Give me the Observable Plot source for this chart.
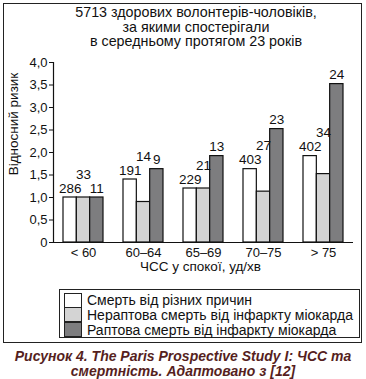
<!DOCTYPE html>
<html>
<head>
<meta charset="utf-8">
<script src="https://cdn.jsdelivr.net/npm/d3@7"></script>
<script src="https://cdn.jsdelivr.net/npm/@observablehq/plot@0.6"></script>
<style>
  html, body { margin: 0; padding: 0; background: #fff; }
  body { width: 366px; height: 379px; position: relative; overflow: hidden;
         font-family: "Liberation Sans", Arial, Helvetica, sans-serif; color: #111; }
  #frame { position: absolute; left: 3px; top: 3px; width: 357px; height: 338px;
           border: 1.5px solid #222; }
  #title { position: absolute; left: 26px; top: 5px; width: 340px; text-align: center;
           font-size: 14.3px; line-height: 14.5px; }
  #ylabel { position: absolute; left: 14px; top: 124px; width: 0; height: 0; }
  #ylabel span { position: absolute; transform: translate(-50%, -50%) rotate(-90deg);
                 white-space: nowrap; font-size: 13.5px; line-height: 14px; }
  #chart { position: absolute; left: 0; top: 0; }
  #legend { position: absolute; left: 59px; top: 289px; width: 299px; height: 47px;
            border: 1.5px solid #222; }
  .row { position: absolute; left: 4px; height: 15px; display: flex; align-items: center;
         font-size: 14px; white-space: nowrap; }
  .sw { width: 18px; height: 15px; border: 1px solid #222; margin-right: 5px; box-sizing: border-box; }
  #caption { position: absolute; left: 0; top: 349px; width: 366px; text-align: center;
             font-size: 14px; line-height: 14.5px; font-weight: bold; font-style: italic; color: #561f1e; }
</style>
</head>
<body>
<div id="frame"></div>
<div id="title"></div>
<div id="chart"></div>
<div id="ylabel"><span></span></div>
<div id="legend"></div>
<div id="caption"></div>
<script>
// ---- data ----
const titleLines = ["5713 здорових волонтерів-чоловіків,", "за якими спостерігали", "в середньому протягом 23 років"];
const groups = ["< 60", "60–64", "65–69", "70–75", "> 75"];
const series = ["Смерть від різних причин", "Нераптова смерть від інфаркту міокарда", "Раптова смерть від інфаркту міокарда"];
const seriesColors = ["#ffffff", "#d4d4d4", "#7d7d7f"];
const allCause = [1.0, 1.4, 1.2, 1.63, 1.92];
const nonSudden = [1.0, 0.9, 1.2, 1.13, 1.52];
const sudden = [1.0, 1.63, 1.92, 2.52, 3.52];
const allCauseN = [286, 191, 229, 403, 402];
const nonSuddenN = [33, 14, 21, 27, 34];
const suddenN = [11, 9, 13, 23, 24];
const yTicks = [0, 0.5, 1, 1.5, 2, 2.5, 3, 3.5, 4];
const yTickLabels = ["0", "0,5", "1,0", "1,5", "2,0", "2,5", "3,0", "3,5", "4,0"];
const yLabel = "Відносний ризик";
const xLabel = "ЧСС у спокої, уд/хв";
const captionLines = ["Рисунок 4. The Paris Prospective Study I: ЧСС та", "смертність. Адаптовано з [12]"];

// ---- table ----
const valuesBySeries = [allCause, nonSudden, sudden];
const countsBySeries = [allCauseN, nonSuddenN, suddenN];
const rows = [];
groups.forEach((g, gi) => {
  series.forEach((s, si) => {
    rows.push({group: g, gi, si, series: s, value: valuesBySeries[si][gi],
               anchor: si === 1 ? allCause[gi] : valuesBySeries[si][gi],
               n: countsBySeries[si][gi]});
  });
});
const groupW = 2 / 3, barW = groupW / 3;
const x1 = d => d.gi - groupW / 2 + d.si * barW;
const xc = d => x1(d) + barW / 2;

const W = 366, H = 280;
const plot = Plot.plot({
  width: W, height: H,
  marginLeft: 53, marginRight: 13, marginTop: 62, marginBottom: 38,
  style: {fontFamily: '"Liberation Sans", Arial, sans-serif', fontSize: "13px", color: "#111", background: "transparent"},
  x: {type: "linear", domain: [-0.5, groups.length - 0.5], ticks: groups.map((g, i) => i),
      tickFormat: i => groups[i], tickSize: 0, tickPadding: 5, label: null},
  y: {domain: [0, 4], ticks: yTicks, tickFormat: d => yTickLabels[yTicks.indexOf(d)],
      tickSize: 4, tickPadding: 2, label: null},
  color: {domain: series, range: seriesColors},
  marks: [
    Plot.rectY(rows, {x1: d => x1(d), x2: d => x1(d) + barW, y: "value", fill: "series", stroke: "#111", strokeWidth: 1.2}),
    Plot.ruleY([0], {stroke: "#111", strokeWidth: 1.2}),
    Plot.ruleX([-0.5], {stroke: "#111", strokeWidth: 1.2}),
    Plot.text(rows.filter(d => d.si !== 1), {x: xc, y: "anchor", text: "n", dy: -9, fontSize: 13.5}),
    Plot.text(rows.filter(d => d.si === 1), {x: xc, y: "anchor", text: "n", dy: -23, fontSize: 13.5}),
    Plot.text([xLabel], {frameAnchor: "bottom", text: d => d, dy: 28, dx: -3, fontSize: 13.5})
  ]
});
document.getElementById("chart").appendChild(plot);

document.getElementById("title").innerHTML = titleLines.join("<br>");
document.querySelector("#ylabel span").textContent = yLabel;
document.getElementById("caption").innerHTML = captionLines.join("<br>");
const legend = document.getElementById("legend");
series.forEach((s, i) => {
  const row = document.createElement("div");
  row.className = "row";
  row.style.top = (2.5 + i * 14.8) + "px";
  const sw = document.createElement("div");
  sw.className = "sw";
  sw.style.background = seriesColors[i];
  const label = document.createElement("span");
  label.textContent = s;
  row.appendChild(sw); row.appendChild(label);
  legend.appendChild(row);
});
</script>
</body>
</html>
